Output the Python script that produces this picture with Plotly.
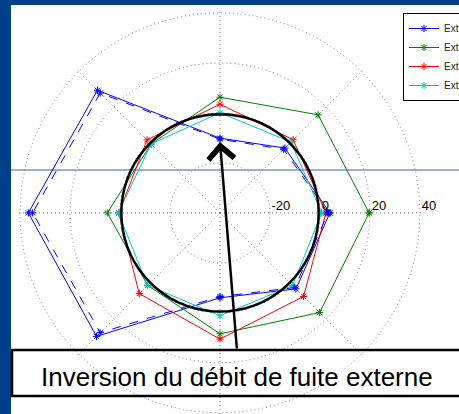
import plotly.graph_objects as go

# Directions of the eight measurement points (degrees, counter-clockwise from east)
angles = [0, 45, 90, 135, 180, 225, 270, 315]

# Radial values of each configuration at those directions
ext_blue = [4.0, -3.3, -10.1, 29.4, 36.7, 29.9, -6.0, 3.0]
ext_blue_dash = [3.3, -4.0, -10.5, 27.8, 35.0, 27.8, -6.5, 2.3]
ext_green = [19.7, 15.5, 6.3, -1.0, 5.1, 1.0, 8.4, 16.4]
ext_red = [2.4, 1.4, 3.5, 1.3, 0.5, 5.7, 10.5, 7.3]
ext_cyan = [0.7, 0.1, 0.1, -1.0, 0.7, 1.0, 1.2, 1.1]

# Reference circle (nominal level)
ref_angles = list(range(0, 361, 5))
ref_level = -0.5

series_names = ["Ext", "Ext", "Ext", "Ext"]
r_ticks = [-20, 0, 20, 40]
r_tick_labels = ["-20", "0", "20", "40"]
r_range = [-40, 40.5]
annotation_text = "Inversion du débit de fuite externe"

W, H = 459, 414
NB = "\u00a0"
PX_PER_UNIT = 2.5
CENTER = (220, 213)


def closed(values):
    return list(values) + [values[0]]


def px(x, y):
    """Convert pixel position (from top-left) to paper coordinates."""
    return x / W, (H - y) / H


def clamp(v):
    return min(1.0, max(0.0, v))


# labels sit to the right of their ring
pads = {"-20": 6, "0": 3, "20": 5, "40": 5}
tick_text = [NB * pads[t] + t for t in r_tick_labels]

fig = go.Figure()


def add_series(vals, name, color, dash="solid", show=True):
    fig.add_trace(go.Scatterpolar(
        r=closed(vals), theta=closed(angles), mode="lines+markers",
        name=name, showlegend=show,
        line=dict(color=color, width=1, dash=dash),
        marker=dict(symbol="asterisk-open", size=6,
                    line=dict(color=color, width=1), color=color),
    ))


add_series(ext_blue, series_names[0], "rgb(0,0,255)")
add_series(ext_green, series_names[1], "rgb(0,128,0)")
add_series(ext_red, series_names[2], "rgb(255,0,0)")
add_series(ext_cyan, series_names[3], "rgb(0,200,200)")
add_series(ext_blue_dash, "Ext (bis)", "rgb(0,0,255)", dash="dash", show=False)

fig.add_trace(go.Scatterpolar(
    r=[ref_level] * len(ref_angles), theta=ref_angles, mode="lines",
    line=dict(color="black", width=2.5), showlegend=False, hoverinfo="skip",
))

# polar disc sized so that one radial unit spans PX_PER_UNIT pixels
radius_px = (r_range[1] - r_range[0]) * PX_PER_UNIT
cx0, cy0 = px(CENTER[0] - radius_px, CENTER[1] + radius_px)
cx1, cy1 = px(CENTER[0] + radius_px, CENTER[1] - radius_px)

fig.update_layout(
    width=W, height=H, autosize=False,
    margin=dict(l=0, r=0, t=0, b=0, autoexpand=False),
    paper_bgcolor="#003F8A",
    font=dict(family="Liberation Sans, Arial, sans-serif", color="black"),
    polar=dict(
        domain=dict(x=[clamp(cx0), clamp(cx1)], y=[clamp(cy0), clamp(cy1)]),
        bgcolor="rgba(0,0,0,0)",
        radialaxis=dict(
            range=r_range, tickvals=r_ticks, ticktext=tick_text,
            angle=0, tickangle=0, side="counterclockwise",
            showline=False, ticks="",
            showgrid=True, gridcolor="#7a7a7a", gridwidth=1, griddash="1px,3px",
            tickfont=dict(size=13, color="black"),
        ),
        angularaxis=dict(
            rotation=0, direction="counterclockwise",
            tickvals=angles, showticklabels=False, ticks="",
            showline=False,
            showgrid=True, gridcolor="#7a7a7a", gridwidth=1, griddash="1px,3px",
        ),
    ),
    showlegend=True,
    legend=dict(
        x=px(403, 0)[0], y=px(0, 13)[1], xanchor="left", yanchor="top",
        bgcolor="white", bordercolor="black", borderwidth=1,
        font=dict(size=10, color="#222"), itemwidth=30,
    ),
)

# white page area, horizontal guide line and caption frame
wx0, wy1 = px(11, 5)
fig.add_shape(type="rect", xref="paper", yref="paper", x0=wx0, x1=1.0, y0=0, y1=wy1,
              fillcolor="white", line=dict(width=0), layer="below")
gx0, gy = px(11, 170)
fig.add_shape(type="line", xref="paper", yref="paper", x0=gx0, x1=1.0, y0=gy, y1=gy,
              line=dict(color="rgb(120,150,195)", width=1.5), layer="below")
bx0, by0 = px(12, 396)
bx1, by1 = px(470, 350)
fig.add_shape(type="rect", xref="paper", yref="paper", x0=bx0, x1=bx1, y0=by0, y1=by1,
              line=dict(color="black", width=2.5), fillcolor="rgba(0,0,0,0)")

tx, ty = px(236.5, 377)
fig.add_annotation(xref="paper", yref="paper", x=tx, y=ty, text=annotation_text,
                   showarrow=False, font=dict(size=26, color="black"),
                   xanchor="center", yanchor="middle")

ax_tip, ay_tip = px(220, 142)
fig.add_annotation(xref="paper", yref="paper", x=ax_tip, y=ay_tip, text="",
                   showarrow=True, arrowhead=4, arrowsize=2, arrowwidth=2.5,
                   arrowcolor="black", ax=17, ay=208, standoff=0)

fig.write_html("out.html")
